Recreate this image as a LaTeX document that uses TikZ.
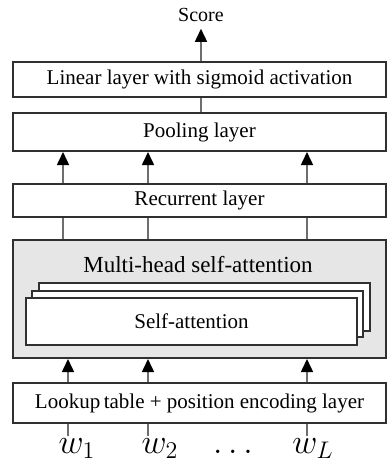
\documentclass[tikz,border=0pt]{standalone}
\usepackage{fontspec}
\setmainfont{Liberation Serif}
\usetikzlibrary{arrows.meta}
\definecolor{boxgray}{HTML}{E6E6E6}
\definecolor{edgegray}{HTML}{303030}
\definecolor{wiregray}{HTML}{6E6E6E}
\tikzstyle{layer} = [rectangle, draw=edgegray, line width=1pt, fill=white, inner sep=0pt, align=center, font=\fontsize{10.5}{12}\selectfont]
\tikzstyle{head} = [rectangle, draw=edgegray, line width=1pt, fill=white, minimum width=165.5pt, minimum height=23.5pt]
\tikzstyle{arrow} = [draw=wiregray, line width=0.8pt, -{Triangle[width=6pt,length=6.5pt,color=black]}]
\tikzstyle{wire} = [draw=wiregray, line width=0.8pt]
\tikzstyle{word} = [inner sep=0pt, anchor=base, font=\fontsize{17}{19}\selectfont]

\begin{document}
\begin{tikzpicture}[x=0.5pt,y=-0.5pt]
        \useasboundingbox (0,0) rectangle (387,463);

        \node (score) at (201,15) [font=\fontsize{10}{12}\selectfont] {Score};
        \node (lin) at (199.5,79.5) [layer, minimum width=186.5pt, minimum height=17.5pt] {Linear layer with sigmoid activation};
        \node (pool) at (199.5,132) [layer, minimum width=186.5pt, minimum height=19pt] {Pooling layer};
        \node (rec) at (199.5,200.5) [layer, minimum width=186.5pt, minimum height=16.5pt] {Recurrent layer};

        \node (mhsa) at (199.5,299) [layer, fill=boxgray, minimum width=186.5pt, minimum height=59pt] {};
        \node (mhsatitle) at (198,265) [font=\fontsize{11.5}{13}\selectfont] {Multi-head self-attention};
        \node (sa3) at (204.5,307) [head, minimum height=24pt] {};
        \node (sa2) at (197.5,314) [head, minimum height=23pt] {};
        \node (sa1) at (191.5,321.5) [head, font=\fontsize{10.5}{12}\selectfont] {Self-attention};

        \node (look) at (199.5,403) [layer, minimum width=186.5pt, minimum height=20pt] {Lookup\,table + position encoding layer};

        \node (w1) at (77,453) [word] {$w_1$};
        \node (w2) at (160,453) [word] {$w_2$};
        \node (dots) at (233,453) [word] {$\dots$};
        \node (wL) at (313,453) [word] {$w_L$};

        % positions of the token columns
        \coordinate (c1) at (63,0);
        \coordinate (c2) at (148,0);
        \coordinate (c3) at (307,0);
        \coordinate (d1) at (68,0);
        \coordinate (foot) at (0,436);

        \draw[arrow] (lin.north -| score) -- (score.south);
        \draw[wire] (pool.north -| score) -- (lin.south -| score);

        \foreach \c in {c1,c2,c3} {
            \draw[arrow] (rec.north -| \c) -- (pool.south -| \c);
            \draw[wire] (mhsa.north -| \c) -- (rec.south -| \c);
        }
        \foreach \c in {d1,c2,c3} {
            \draw[arrow] (look.north -| \c) -- (mhsa.south -| \c);
            \draw[wire] (look.south -| \c) -- (foot -| \c);
        }

    \end{tikzpicture}
\end{document}
